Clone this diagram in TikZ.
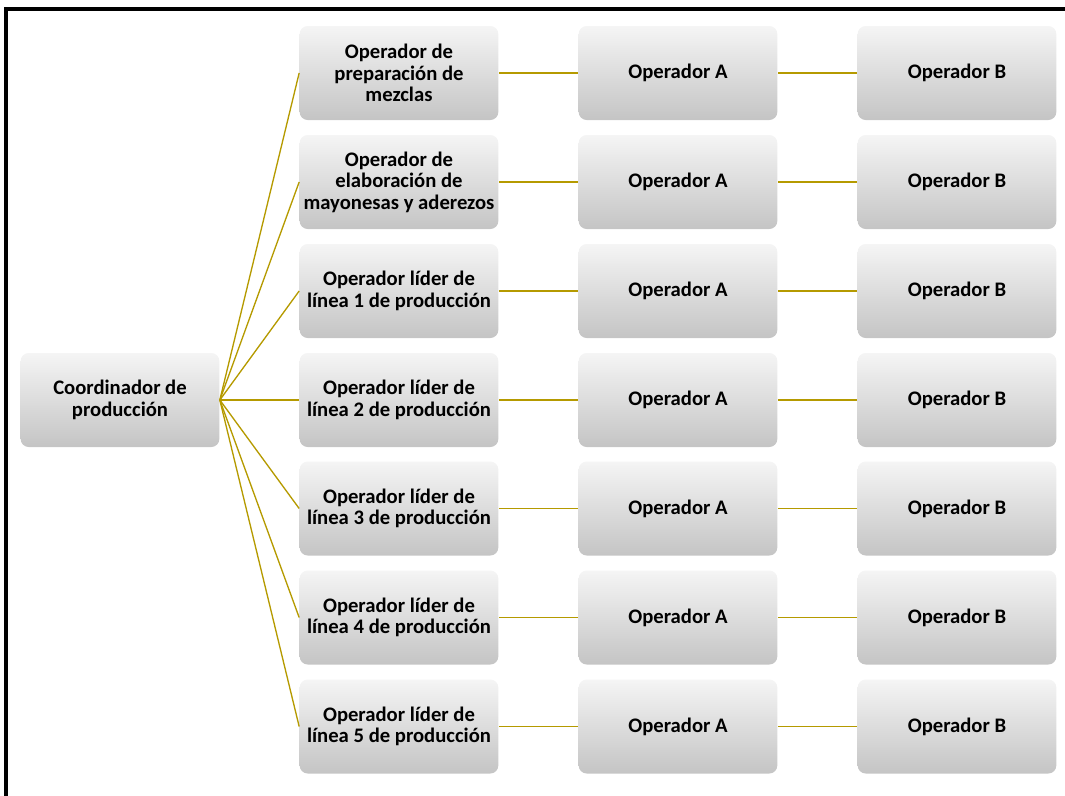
\documentclass[tikz,border=0pt]{standalone}
\usepackage{fontspec}
\setmainfont{Carlito}
\usetikzlibrary{positioning}
\tikzset{every picture/.style={line width=0.75pt}}
\definecolor{enlace}{RGB}{181,154,0}
\tikzset{
	puesto/.style={rounded corners=6pt, top color=black!4, bottom color=black!23, draw=none,
		minimum width=149pt, minimum height=70.5pt, align=center, inner sep=1pt,
		font=\fontsize{15.5}{16.2}\selectfont\bfseries},
	enlace/.style={draw=enlace, line width=1pt}}

\begin{document}
\begin{tikzpicture}[x=0.75pt,y=0.75pt,yscale=-1,xscale=1]
	\useasboundingbox (0,0) rectangle (1065,796);

	%Frame
	\draw [line width=3pt] (5.5,796) -- (5.5,8.5) -- (1065,8.5) ;

	%Coordinator
	\node [puesto] (coord) at (120,400) {Coordinador de\\producción};

	%Rows
	\node [puesto] (op1) at (399,73) {Operador de\\preparación de\\mezclas};
	\node [puesto] (op2) at (399,182) {Operador de\\elaboración de\\mayonesas y aderezos};
	\node [puesto] (op3) at (399,291) {Operador líder de\\línea 1 de producción};
	\node [puesto] (op4) at (399,400) {Operador líder de\\línea 2 de producción};
	\node [puesto] (op5) at (399,508.5) {Operador líder de\\línea 3 de producción};
	\node [puesto] (op6) at (399,617.5) {Operador líder de\\línea 4 de producción};
	\node [puesto] (op7) at (399,726.5) {Operador líder de\\línea 5 de producción};

	\foreach \i in {1,...,7} {
		\node [puesto, right=59.5pt of op\i] (a\i) {Operador A};
		\node [puesto, right=59.5pt of a\i] (b\i) {Operador B};
		\draw [enlace] (coord.east) -- (op\i.west) ;
		\draw [enlace] (op\i.east) -- (a\i.west) ;
		\draw [enlace] (a\i.east) -- (b\i.west) ;
	}

\end{tikzpicture}
\end{document}
